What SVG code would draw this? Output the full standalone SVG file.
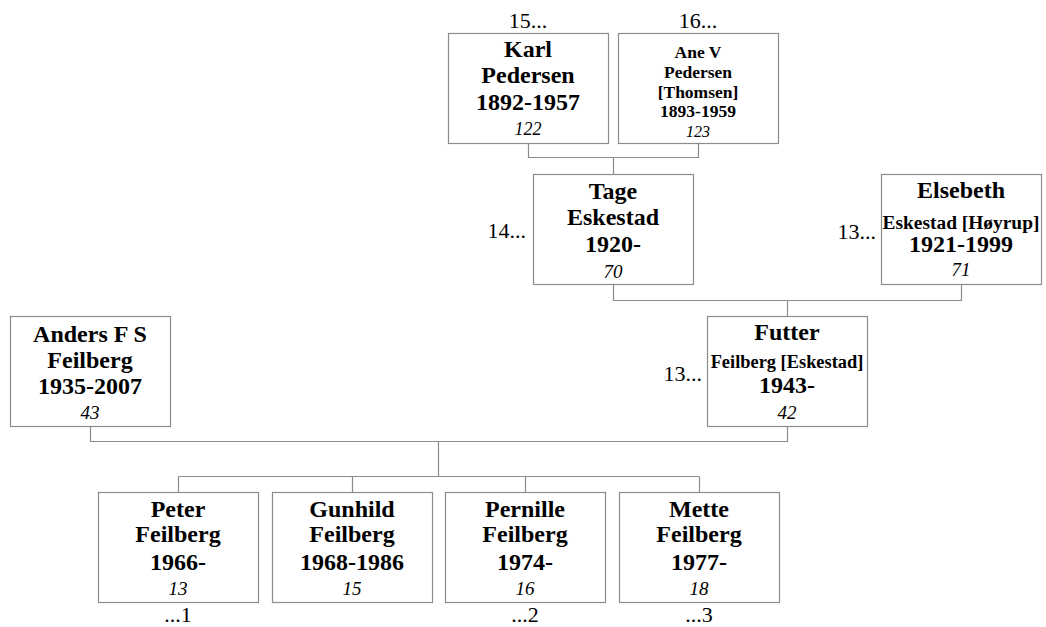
<svg xmlns="http://www.w3.org/2000/svg" width="1046" height="627" viewBox="0 0 1046 627">
<style>
  text { font-family: "Liberation Serif", "Times New Roman", serif; fill: #000; }
  .box { fill: #fff; stroke: #8c8c8c; stroke-width: 1.2; }
  .n { font-weight: bold; font-size: 24px; text-anchor: middle; }
  .s { font-weight: bold; text-anchor: middle; }
  .id { font-style: italic; font-size: 19px; text-anchor: middle; }
  .lbl { font-size: 22px; }
  .c { text-anchor: middle; }
  .r { text-anchor: end; }
  .conn { fill: none; stroke: #8c8c8c; stroke-width: 1.2; }
</style>
<rect width="1046" height="627" fill="#fff"/>
<g id="connectors" class="conn">
  <path d="M528.5,143.5 V157.5 H698.5 V143.5 M613.5,157.5 V174.5"/>
  <path d="M613.5,284.5 V300.5 H961.5 V284.5 M787.5,300.5 V316.5"/>
  <path d="M90.5,426.5 V441.5 H787.5 V426.5 M438.5,441.5 V476.5"/>
  <path d="M178.5,476.5 H699.5 M178.5,476.5 V492.5 M352.5,476.5 V492.5 M525.5,476.5 V492.5 M699.5,476.5 V492.5"/>
</g>
<g id="node-karl">
  <rect class="box" x="448.5" y="33.5" width="160" height="110"/>
  <text class="n" x="528" y="57">Karl</text>
  <text class="n" x="528" y="83">Pedersen</text>
  <text class="n" x="528" y="110">1892-1957</text>
  <text class="id" x="528" y="135" style="font-size:18px">122</text>
  <text class="lbl c" x="528" y="28">15...</text>
</g>
<g id="node-ane">
  <rect class="box" x="618.5" y="33.5" width="160" height="110"/>
  <text class="s" x="698" y="58" font-size="17.5">Ane V</text>
  <text class="s" x="698" y="78" font-size="17.5">Pedersen</text>
  <text class="s" x="698" y="97.5" font-size="17.5">[Thomsen]</text>
  <text class="s" x="698" y="116.5" font-size="17.5">1893-1959</text>
  <text class="id" x="698" y="136.5" style="font-size:16px">123</text>
  <text class="lbl c" x="698" y="28">16...</text>
</g>
<g id="node-tage">
  <rect class="box" x="533.5" y="174.5" width="160" height="110"/>
  <text class="n" x="613" y="198.5">Tage</text>
  <text class="n" x="613" y="224.5">Eskestad</text>
  <text class="n" x="613" y="251.5">1920-</text>
  <text class="id" x="613" y="278">70</text>
  <text class="lbl r" x="526" y="238">14...</text>
</g>
<g id="node-elsebeth">
  <rect class="box" x="881.5" y="174.5" width="160" height="110"/>
  <text class="n" x="961" y="198">Elsebeth</text>
  <text class="s" x="961" y="228.5" font-size="19.4">Eskestad [Høyrup]</text>
  <text class="n" x="961" y="251.5">1921-1999</text>
  <text class="id" x="961" y="276">71</text>
  <text class="lbl r" x="876" y="238.5">13...</text>
</g>
<g id="node-anders">
  <rect class="box" x="10.5" y="316.5" width="160" height="110"/>
  <text class="n" x="90" y="341.5">Anders F S</text>
  <text class="n" x="90" y="367.5">Feilberg</text>
  <text class="n" x="90" y="393.5">1935-2007</text>
  <text class="id" x="90" y="418.5">43</text>
</g>
<g id="node-futter">
  <rect class="box" x="707.5" y="316.5" width="160" height="110"/>
  <text class="n" x="787" y="340">Futter</text>
  <text class="s" x="787" y="367.5" font-size="18.4">Feilberg [Eskestad]</text>
  <text class="n" x="787" y="392.5">1943-</text>
  <text class="id" x="787" y="418.5">42</text>
  <text class="lbl r" x="702" y="381">13...</text>
</g>
<g id="node-peter">
  <rect class="box" x="98.5" y="492.5" width="160" height="110"/>
  <text class="n" x="178" y="516.5">Peter</text>
  <text class="n" x="178" y="542">Feilberg</text>
  <text class="n" x="178" y="569.5">1966-</text>
  <text class="id" x="178" y="594.5">13</text>
  <text class="lbl c" x="178" y="622">...1</text>
</g>
<g id="node-gunhild">
  <rect class="box" x="272.5" y="492.5" width="160" height="110"/>
  <text class="n" x="352" y="516.5">Gunhild</text>
  <text class="n" x="352" y="542">Feilberg</text>
  <text class="n" x="352" y="569.5">1968-1986</text>
  <text class="id" x="352" y="594.5">15</text>
</g>
<g id="node-pernille">
  <rect class="box" x="445.5" y="492.5" width="160" height="110"/>
  <text class="n" x="525" y="516.5">Pernille</text>
  <text class="n" x="525" y="542">Feilberg</text>
  <text class="n" x="525" y="569.5">1974-</text>
  <text class="id" x="525" y="594.5">16</text>
  <text class="lbl c" x="525" y="622">...2</text>
</g>
<g id="node-mette">
  <rect class="box" x="619.5" y="492.5" width="160" height="110"/>
  <text class="n" x="699" y="516.5">Mette</text>
  <text class="n" x="699" y="542">Feilberg</text>
  <text class="n" x="699" y="569.5">1977-</text>
  <text class="id" x="699" y="594.5">18</text>
  <text class="lbl c" x="699" y="622">...3</text>
</g>
</svg>
